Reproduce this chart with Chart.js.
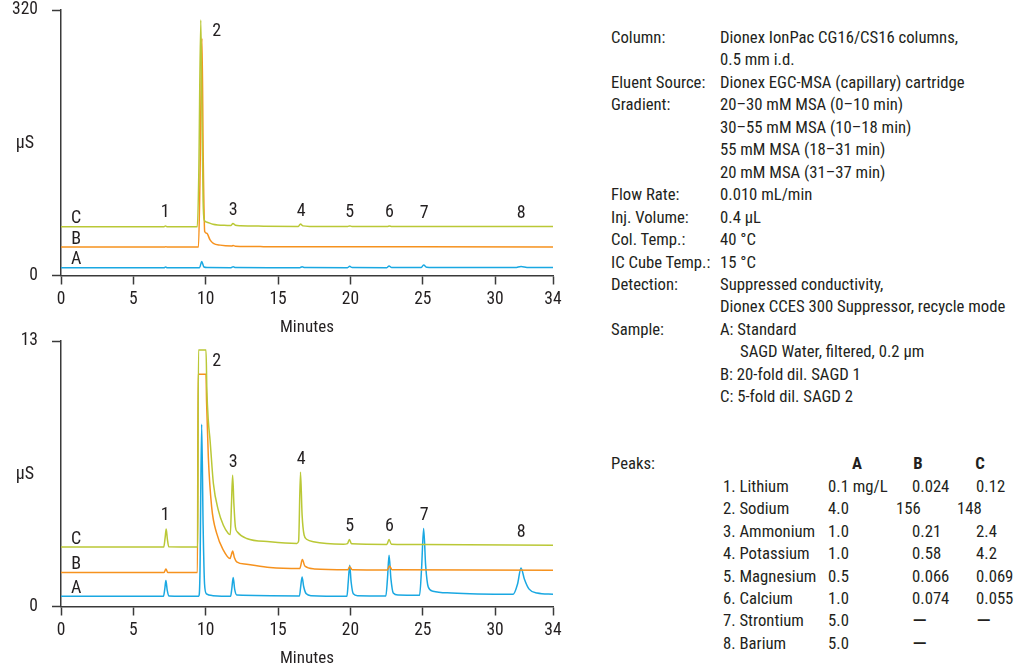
<!DOCTYPE html>
<html>
<head>
<meta charset="utf-8">
<script src="https://cdn.jsdelivr.net/npm/chart.js@4.4.1/dist/chart.umd.min.js"></script>
<style>
html,body{margin:0;padding:0;background:#fff;overflow:hidden;width:1014px;height:669px;}
#wrap{position:relative;width:1014px;height:669px;color:#231f20;font-family:'Liberation Sans Narrow','Arial Narrow','Roboto Condensed',Roboto,sans-serif;}
canvas{position:absolute;left:0;}
.t{position:absolute;white-space:nowrap;font-size:16.7px;line-height:20px;transform:translateY(-50%);}
.b{font-weight:bold;}
</style>
</head>
<body>
<div id="wrap">
  <canvas id="top" width="580" height="338" style="top:0"></canvas>
  <canvas id="bot" width="580" height="338" style="top:331px"></canvas>
</div>
<script>
// ---------- data ----------
const xTickValues = [0, 5, 10, 15, 20, 25, 30, 34];
const topYTicks = [0, 320];
const bottomYTicks = [0, 13];
const traceNames = ['C', 'B', 'A'];
const peakIds = ['1', '2', '3', '4', '5', '6', '7', '8'];
const peakTimes = [7.2, 9.72, 11.9, 16.6, 19.95, 22.7, 25.1, 31.8];

// top panel (full scale, µS)
const topC = [[0,58.8],[7.12,58.8],[7.22,59.8],[7.32,58.8],[9.42,58.8],[9.52,120],[9.66,308],[9.74,200],[9.82,90],[9.9,67],[10.05,64.5],[10.5,61.8],[11.5,60.3],[11.75,60.2],[11.88,62.8],[12.05,60.6],[12.4,60],[14,59.5],[16.4,59.2],[16.55,62],[16.72,59.8],[17.2,59.2],[19.82,59.1],[19.95,59.8],[20.1,59.1],[22.55,59.1],[22.7,59.7],[22.85,59.1],[34,59]];
const topB = [[0,34.3],[7.15,34.3],[7.25,34.7],[7.35,34.3],[9.5,34.3],[9.6,110],[9.74,286],[9.83,140],[9.93,53],[10.07,50.8],[10.3,43],[10.53,38.8],[11.0,36.6],[11.8,35.6],[11.9,36.1],[12.05,35.4],[14,34.8],[20,34.6],[34,34.5]];
const topA = [[0,9.4],[7.12,9.4],[7.23,10.3],[7.34,9.4],[9.58,9.4],[9.72,16.8],[9.88,10.2],[10.1,9.6],[11.75,9.45],[11.9,10.5],[12.05,9.5],[16.5,9.45],[16.66,10.4],[16.85,9.5],[19.8,9.45],[19.95,11.0],[20.12,9.5],[22.52,9.45],[22.67,11.4],[22.85,9.55],[24.88,9.5],[25.06,12.6],[25.28,9.9],[25.7,9.65],[31.4,9.55],[31.79,10.9],[32.2,9.75],[32.8,9.55],[34,9.5]];

// bottom panel (expanded scale, µS)
const botC = [[0,2.91],[7.1,2.91],[7.2,3.4],[7.27,3.8],[7.35,3.3],[7.45,2.92],[9.45,2.91],[9.5,12.56],[10.02,12.56],[10.08,10.6],[10.18,9.1],[10.3,8.15],[10.53,6.03],[10.87,4.72],[11.22,3.98],[11.56,3.58],[11.7,3.52],[11.78,5.0],[11.86,6.43],[11.95,5.0],[12.05,3.9],[12.19,3.65],[12.83,3.33],[14.44,3.17],[16.3,3.09],[16.42,3.2],[16.55,6.57],[16.66,4.5],[16.8,3.5],[17.0,3.28],[17.44,3.17],[19.5,3.05],[19.8,3.08],[19.93,3.28],[20.08,3.07],[22.52,3.04],[22.67,3.28],[22.83,3.05],[25,3.03],[34,3.0]];
const botB = [[0,1.67],[7.12,1.67],[7.25,1.84],[7.38,1.67],[9.43,1.67],[9.47,11.37],[10.02,11.37],[10.06,10.0],[10.18,7.33],[10.41,4.88],[10.76,3.58],[11.22,2.76],[11.68,2.35],[11.78,2.55],[11.86,2.72],[11.98,2.4],[12.14,2.19],[12.83,2.07],[14.44,1.91],[16.5,1.86],[16.68,2.3],[16.85,1.98],[17.5,1.84],[19.82,1.8],[19.95,1.95],[20.12,1.8],[22.55,1.79],[22.7,1.98],[22.88,1.8],[34,1.78]];
const botA = [[0,0.5],[7.08,0.5],[7.17,0.85],[7.25,1.27],[7.34,0.8],[7.45,0.52],[9.52,0.5],[9.6,1.5],[9.72,8.92],[9.82,4.0],[9.92,1.1],[10.05,0.62],[10.5,0.53],[11.72,0.5],[11.8,0.85],[11.9,1.42],[12.0,0.85],[12.15,0.56],[16.48,0.52],[16.56,0.95],[16.66,1.45],[16.77,0.98],[16.95,0.62],[17.3,0.53],[19.76,0.5],[19.85,1.2],[19.95,2.02],[20.05,1.2],[20.2,0.62],[20.5,0.53],[22.45,0.52],[22.56,1.35],[22.67,2.51],[22.8,1.35],[22.96,0.66],[23.3,0.56],[24.78,0.55],[24.92,1.9],[25.06,3.82],[25.2,2.0],[25.38,0.95],[25.7,0.75],[27,0.66],[31.25,0.6],[31.55,1.1],[31.79,1.89],[32.02,1.35],[32.35,0.85],[32.9,0.66],[34,0.6]];

// text panel
const infoRows = [
  ['Column:', 'Dionex IonPac CG16/CS16 columns,'],
  ['', '0.5 mm i.d.'],
  ['Eluent Source:', 'Dionex EGC-MSA (capillary) cartridge'],
  ['Gradient:', '20–30 mM MSA (0–10 min)'],
  ['', '30–55 mM MSA (10–18 min)'],
  ['', '55 mM MSA (18–31 min)'],
  ['', '20 mM MSA (31–37 min)'],
  ['Flow Rate:', '0.010 mL/min'],
  ['Inj. Volume:', '0.4 µL'],
  ['Col. Temp.:', '40 °C'],
  ['IC Cube Temp.:', '15 °C'],
  ['Detection:', 'Suppressed conductivity,'],
  ['', 'Dionex CCES 300 Suppressor, recycle mode'],
  ['Sample:', 'A: Standard'],
  ['', 'SAGD Water, filtered, 0.2 µm'],
  ['', 'B: 20-fold dil. SAGD 1'],
  ['', 'C: 5-fold dil. SAGD 2']
];
const indentedInfoRows = [14];
const peakNames = ['1. Lithium', '2. Sodium', '3. Ammonium', '4. Potassium', '5. Magnesium', '6. Calcium', '7. Strontium', '8. Barium'];
const concA = ['0.1 mg/L', '4.0', '1.0', '1.0', '0.5', '1.0', '5.0', '5.0'];
const concB = ['0.024', '156', '0.21', '0.58', '0.066', '0.074', '—', '—'];
const concC = ['0.12', '148', '2.4', '4.2', '0.069', '0.055', '—', ''];

// ---------- drawing ----------
const FONT = "'Liberation Sans Narrow','Arial Narrow','Roboto Condensed',Roboto,sans-serif";
const TEXT = '#231f20';
const AXIS = '#3a3a3a';
const COLORS = {C: '#bac836', B: '#f6921e', A: '#1aa8e2'};

function valueAt(data, t) {
  for (let i = 1; i < data.length; i++) {
    if (data[i].x >= t) {
      const a = data[i - 1], b = data[i];
      if (b.x === a.x) return Math.max(a.y, b.y);
      return a.y + (b.y - a.y) * (t - a.x) / (b.x - a.x);
    }
  }
  return data[data.length - 1].y;
}

const annot = {
  id: 'annot',
  afterDatasetsDraw(chart) {
    const {ctx, scales: {x, y}, chartArea} = chart;
    ctx.save();
    ctx.font = '18px ' + FONT;
    ctx.fillStyle = TEXT;
    ctx.textAlign = 'center';
    ctx.textBaseline = 'middle';
    chart.data.datasets.forEach(ds => {
      ctx.fillText(ds.label, x.getPixelForValue(1.05), y.getPixelForValue(ds.data[0].y) - 8);
    });
    peakIds.forEach((id, i) => {
      const t = peakTimes[i];
      let minPix = Infinity;
      chart.data.datasets.forEach(ds => {
        [t - 0.3, t, t + 0.3].forEach(tt => { minPix = Math.min(minPix, y.getPixelForValue(valueAt(ds.data, tt))); });
        ds.data.forEach(p => { if (Math.abs(p.x - t) <= 0.3) minPix = Math.min(minPix, y.getPixelForValue(p.y)); });
      });
      minPix = Math.max(minPix, chartArea.top);
      if (i === 1) ctx.fillText(id, x.getPixelForValue(t) + 15, minPix + 12);
      else ctx.fillText(id, x.getPixelForValue(t), minPix - 13);
    });
    ctx.fillText('µS', 25, (chartArea.top + chartArea.bottom) / 2 + 1);
    ctx.restore();
  }
};

function makeChart(id, series, yMax, yTicks) {
  const datasets = traceNames.map((name, i) => ({
    label: name,
    data: series[i].map(p => ({x: p[0], y: p[1]})),
    borderColor: COLORS[name],
    borderWidth: 1.5,
    pointRadius: 0,
    fill: false,
    cubicInterpolationMode: 'monotone'
  }));
  return new Chart(document.getElementById(id), {
    type: 'line',
    data: {datasets},
    plugins: [annot],
    options: {
      responsive: false,
      animation: false,
      events: [],
      layout: {padding: {left: 0, top: 10, right: 27, bottom: 0}},
      plugins: {legend: {display: false}, tooltip: {enabled: false}},
      scales: {
        x: {
          type: 'linear', min: 0, max: 34,
          afterBuildTicks: s => { s.ticks = xTickValues.map(v => ({value: v})); },
          afterFit: s => { s.height = 62.5; s.paddingLeft = 0; s.paddingRight = 0; },
          grid: {drawOnChartArea: false, drawTicks: true, tickLength: 9, tickColor: AXIS, tickWidth: 1.5},
          border: {display: true, color: AXIS, width: 1.5},
          ticks: {font: {family: FONT, size: 17.5}, color: TEXT, padding: 4.5, maxRotation: 0, autoSkip: false},
          title: {display: true, text: 'Minutes', font: {family: FONT, size: 17}, color: TEXT, padding: {top: 0, bottom: 0}}
        },
        y: {
          type: 'linear', min: 0, max: yMax,
          afterBuildTicks: s => { s.ticks = yTicks.map(v => ({value: v})); },
          afterFit: s => { s.width = 61; s.paddingTop = 0; s.paddingBottom = 0; },
          grid: {drawOnChartArea: false, drawTicks: true, tickLength: 9, tickColor: AXIS, tickWidth: 1.5},
          border: {display: true, color: AXIS, width: 1.5},
          ticks: {font: {family: FONT, size: 17.5}, color: TEXT, padding: 14}
        }
      }
    }
  });
}

makeChart('top', [topC, topB, topA], 320, topYTicks);
makeChart('bot', [botC, botB, botA], 13, bottomYTicks);

// text panel
const wrap = document.getElementById('wrap');
function addText(txt, left, top, cls) {
  const d = document.createElement('div');
  d.className = 't' + (cls ? ' ' + cls : '');
  d.style.left = left + 'px';
  d.style.top = top + 'px';
  d.textContent = txt;
  wrap.appendChild(d);
  return d;
}
infoRows.forEach((r, i) => {
  const y = 38 + i * 22.45;
  if (r[0]) addText(r[0], 611, y);
  addText(r[1], indentedInfoRows.includes(i) ? 740 : 720, y);
});
addText('Peaks:', 611, 464);
const hdr = [['A', 857], ['B', 918], ['C', 980]];
hdr.forEach(h => { const d = addText(h[0], h[1], 464, 'b'); d.style.transform = 'translate(-50%,-50%)'; });
peakNames.forEach((n, i) => {
  const y = 487 + i * 22.4;
  addText(n, 723, y);
  addText(concA[i], 828, y);
  if (concB[i]) { const d = addText(concB[i], i === 1 ? 896 : 912, y); if (concB[i] === '—') d.style.fontSize = '22px'; }
  if (concC[i]) { const d = addText(concC[i], i === 1 ? 957 : 976, y); if (concC[i] === '—') d.style.fontSize = '22px'; }
});
</script>
</body>
</html>
